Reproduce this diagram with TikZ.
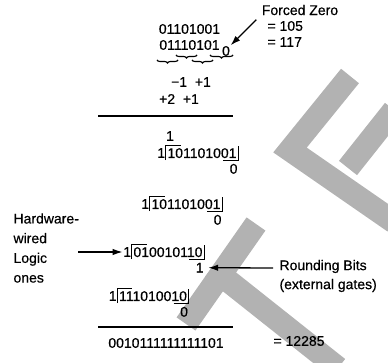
\documentclass[tikz,border=0pt]{standalone}
\usepackage{fontspec}
\setmainfont{Liberation Sans}[FakeBold=0.5]
\usetikzlibrary{arrows.meta,calc,decorations.pathreplacing}

\begin{document}
\begin{tikzpicture}[x=1pt,y=-1pt,
    every node/.style={font=\fontsize{14}{16}\selectfont},
    digs/.style={inner xsep=1.5pt,inner ysep=2pt,text height=10pt,text depth=0pt},
    bit/.style={inner sep=0.5pt},
    arr/.style={line width=1.3pt,-{Latex[length=10pt,width=6.5pt]}},
    rule/.style={line width=1.6pt},
    brk/.style={line width=1pt},
    grp/.style={decorate,decoration={brace,mirror,amplitude=3pt},line width=1.1pt},
    band/.style={line width=23pt,gray!60}]
    \path[use as bounding box] (0,0) rectangle (388,363);

    % gray bands of the scan
    \draw[band] (350,76) -- (290,150) -- (394,222);
    \draw[band] (394,110) -- (348,168);
    \draw[band] (256,224) -- (186,324);
    \draw[band] (212,268) -- (338,368);

    % multiplicand and multiplier
    \node (fz) at (300,10) {Forced Zero};
    \node (mA) at (189.5,29) {01101001};
    \node (mB) at (189.5,45) {01110101};
    \node[bit] (mZ) at (226,51) {0};
    \node[anchor=west] (vA) at (264,26) {= 105};
    \node[anchor=west] (vB) at (264,42) {= 117};
    \draw[arr] ($(fz.south west)+(-2,1)$) -- (mZ.north east);

    % recoding groups
    \draw[grp] (176,55) -- (197,55);
    \draw[grp] (210,55) -- (233,55);
    \draw[grp] (157,60) -- (178,60);
    \draw[grp] (192,60) -- (213,60);
    \node (rcA) at (191,82) {−1\ \ +1};
    \node (rcB) at (179,99) {+2\ \ +1};
    \draw[rule] (98,116) -- (233,116);

    % partial steps
    \node (cy) at (170,136) {1};
    \node[digs] (rowA) at (202,153) {101101001};
    \node[digs] (rowB) at (186,204) {101101001};
    \node[digs] (rowC) at (168,252) {010010110};
    \node[digs] (rowD) at (153,296) {111010010};
    \foreach \r/\lo/\hd in {rowA/0/1,rowB/0/1,rowC/1/1,rowD/0/1}{
        \node[bit,anchor=east] (one\r) at (\r.west) {\hd};
        \node[bit,anchor=north east,yshift=-3pt] (sub\r) at (\r.south east) {\lo};
        \draw[brk] (\r.south west) -- (\r.north west) -- ++(15,0);
        \draw[brk] ($(\r.south east)+(-15,0)$) -- (\r.south east) -- (\r.north east);
    }

    % notes
    \node[anchor=west,align=left,font=\fontsize{14}{19.7}\selectfont] (hw) at (10,248) {Hardware-\\wired\\Logic\\ones};
    \coordinate (hwA) at (78,252);
    \draw[arr] (hwA) -- (onerowC.west);
    \node[anchor=west,align=left,font=\fontsize{14}{19}\selectfont] (rb) at (276,276) {Rounding Bits\\(external gates)};
    \coordinate (rbA) at (273,268);
    \draw[arr] (rbA) -- ($(subrowC.east)+(4,0)$);

    % result
    \draw[rule] (98,327) -- (233,327);
    \node (res) at (166,343) {0010111111111101};
    \node[anchor=west] (resv) at (270,341) {= 12285};
\end{tikzpicture}
\end{document}
